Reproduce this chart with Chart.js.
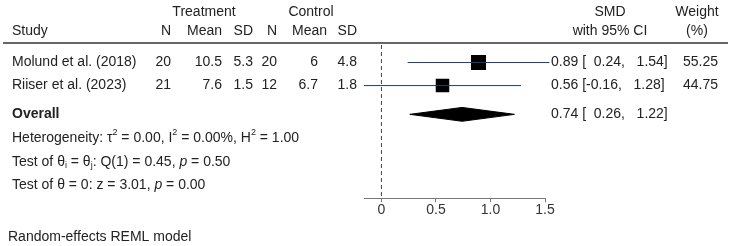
<!DOCTYPE html>
<html>
<head>
<meta charset="utf-8">
<script src="https://cdn.jsdelivr.net/npm/chart.js@4.4.1/dist/chart.umd.min.js"></script>
<style>
  html, body { margin: 0; padding: 0; background: #fff; }
  canvas { display: block; }
</style>
</head>
<body>
<canvas id="forest" width="735" height="246"></canvas>
<script>
// study table
const studies = ['Molund et al. (2018)', 'Riiser et al. (2023)']
const treatN = ['20', '21']
const treatMean = ['10.5', '7.6']
const treatSD = ['5.3', '1.5']
const ctrlN = ['20', '12']
const ctrlMean = ['6', '6.7']
const ctrlSD = ['4.8', '1.8']

// effect sizes
const smd = [0.89, 0.56]
const ciLow = [0.24, -0.16]
const ciHigh = [1.54, 1.28]
const weights = [55.25, 44.75]

// pooled estimate
const overallSmd = 0.74
const overallLow = 0.26
const overallHigh = 1.22

// test statistics
const tau2 = '0.00', i2 = '0.00', h2 = '1.00'
const qStat = '0.45', qDf = '1', qP = '0.50'
const zStat = '3.01', zP = '0.00'

const xTicks = [0, 0.5, 1, 1.5]
const studyRows = [1, 2]
const overallRow = 3.25

const FONT = '"Liberation Sans", Arial, sans-serif'
const TEXT = '#222'
const NAVY = '#1a3f6a'

const fmt = v => v.toFixed(2)
const padNum = v => (v < 0 ? '' : '  ') + fmt(v)

const datasets = []

// CI lines
studies.forEach((s, i) => {
  datasets.push({
    data: [{ x: ciLow[i], y: studyRows[i] }, { x: ciHigh[i], y: studyRows[i] }],
    showLine: true,
    borderColor: NAVY,
    borderWidth: 1,
    pointRadius: 0,
    clip: false
  })
})

// weighted squares
datasets.push({
  data: smd.map((v, i) => ({ x: v, y: studyRows[i] })),
  pointStyle: 'rect',
  pointRadius: weights.map(w => Math.sqrt(w) * 1.43),
  backgroundColor: '#000',
  borderColor: '#000',
  borderWidth: 0
})

// pooled diamond
const half = 0.3
datasets.push({
  data: [
    { x: overallLow, y: overallRow },
    { x: overallSmd, y: overallRow - half },
    { x: overallHigh, y: overallRow },
    { x: overallSmd, y: overallRow + half },
    { x: overallLow, y: overallRow }
  ],
  showLine: true,
  fill: 'shape',
  backgroundColor: '#000',
  borderColor: '#000',
  borderWidth: 1,
  pointRadius: 0
})

// no-effect line
datasets.push({
  data: [{ x: 0, y: 0.24 }, { x: 0, y: 6.9 }],
  showLine: true,
  borderColor: '#444',
  borderWidth: 1,
  borderDash: [4, 3],
  pointRadius: 0,
  clip: false
})

function drawRich(ctx, parts, x, y) {
  parts.forEach(([t, kind]) => {
    let size = 14, dy = 0, style = ''
    if (kind === 'sup') { size = 9; dy = -5 }
    if (kind === 'sub') { size = 9; dy = 4 }
    if (kind === 'i') style = 'italic '
    ctx.font = style + size + 'px ' + FONT
    ctx.fillText(t, x, y + dy)
    x += ctx.measureText(t).width
  })
}

const tablePlugin = {
  id: 'table',
  afterDraw(chart) {
    const ctx = chart.ctx
    const yScale = chart.scales.y
    ctx.save()
    ctx.fillStyle = TEXT
    ctx.textBaseline = 'middle'
    ctx.font = '14px ' + FONT

    const text = (t, x, y, align) => { ctx.textAlign = align; ctx.fillText(t, x, y) }

    // headers
    text('Treatment', 204, 12, 'center')
    text('Control', 311, 12, 'center')
    text('SMD', 610, 12, 'center')
    text('Weight', 697, 12, 'center')
    text('Study', 12, 31, 'left')
    text('N', 171, 31, 'right')
    text('Mean', 222, 31, 'right')
    text('SD', 253, 31, 'right')
    text('N', 277, 31, 'right')
    text('Mean', 327, 31, 'right')
    text('SD', 357, 31, 'right')
    text('with 95% CI', 610, 31, 'center')
    text('(%)', 697, 31, 'center')

    ctx.strokeStyle = '#666'
    ctx.lineWidth = 2
    ctx.beginPath()
    ctx.moveTo(3, 43)
    ctx.lineTo(728, 43)
    ctx.stroke()

    studies.forEach((s, i) => {
      const y = yScale.getPixelForValue(studyRows[i])
      text(s, 12, y, 'left')
      text(treatN[i], 171, y, 'right')
      text(treatMean[i], 222, y, 'right')
      text(treatSD[i], 253, y, 'right')
      text(ctrlN[i], 277, y, 'right')
      text(ctrlMean[i], 318, y, 'right')
      text(ctrlSD[i], 357, y, 'right')
      text(fmt(smd[i]) + ' [' + padNum(ciLow[i]) + ', ' + padNum(ciHigh[i]) + ']', 551, y, 'left')
      text(fmt(weights[i]), 718, y, 'right')
    })

    const oy = yScale.getPixelForValue(overallRow)
    text(fmt(overallSmd) + ' [' + padNum(overallLow) + ', ' + padNum(overallHigh) + ']', 551, oy, 'left')
    ctx.font = 'bold 14px ' + FONT
    text('Overall', 12, oy, 'left')

    ctx.textAlign = 'left'
    drawRich(ctx, [['Heterogeneity: τ', 'n'], ['2', 'sup'], [' = ' + tau2 + ', I', 'n'], ['2', 'sup'],
      [' = ' + i2 + '%, H', 'n'], ['2', 'sup'], [' = ' + h2, 'n']], 12, 138)
    drawRich(ctx, [['Test of θ', 'n'], ['i', 'sub'], [' = θ', 'n'], ['j', 'sub'],
      [': Q(' + qDf + ') = ' + qStat + ', ', 'n'], ['p', 'i'], [' = ' + qP, 'n']], 12, 162)
    drawRich(ctx, [['Test of θ = 0: z = ' + zStat + ', ', 'n'], ['p', 'i'], [' = ' + zP, 'n']], 12, 185)

    ctx.font = '14px ' + FONT
    text('Random-effects REML model', 8, 237, 'left')
    ctx.restore()
  }
}

new Chart(document.getElementById('forest'), {
  type: 'scatter',
  data: { datasets },
  plugins: [tablePlugin],
  options: {
    responsive: false,
    animation: false,
    layout: { padding: { left: 364, right: 190, top: 39.5, bottom: 27 } },
    plugins: { legend: { display: false }, tooltip: { enabled: false } },
    scales: {
      x: {
        type: 'linear',
        min: -0.16,
        max: 1.5,
        afterBuildTicks: scale => { scale.ticks = xTicks.map(v => ({ value: v })) },
        border: { display: true, color: '#777', width: 1 },
        grid: { display: true, drawOnChartArea: false, drawTicks: true, tickLength: 4, color: '#777' },
        ticks: { color: '#333', padding: 0, font: { family: FONT, size: 14 }, maxRotation: 0 }
      },
      y: {
        type: 'linear',
        display: false,
        min: 0,
        max: 6.89,
        reverse: true
      }
    }
  }
})
</script>
</body>
</html>
